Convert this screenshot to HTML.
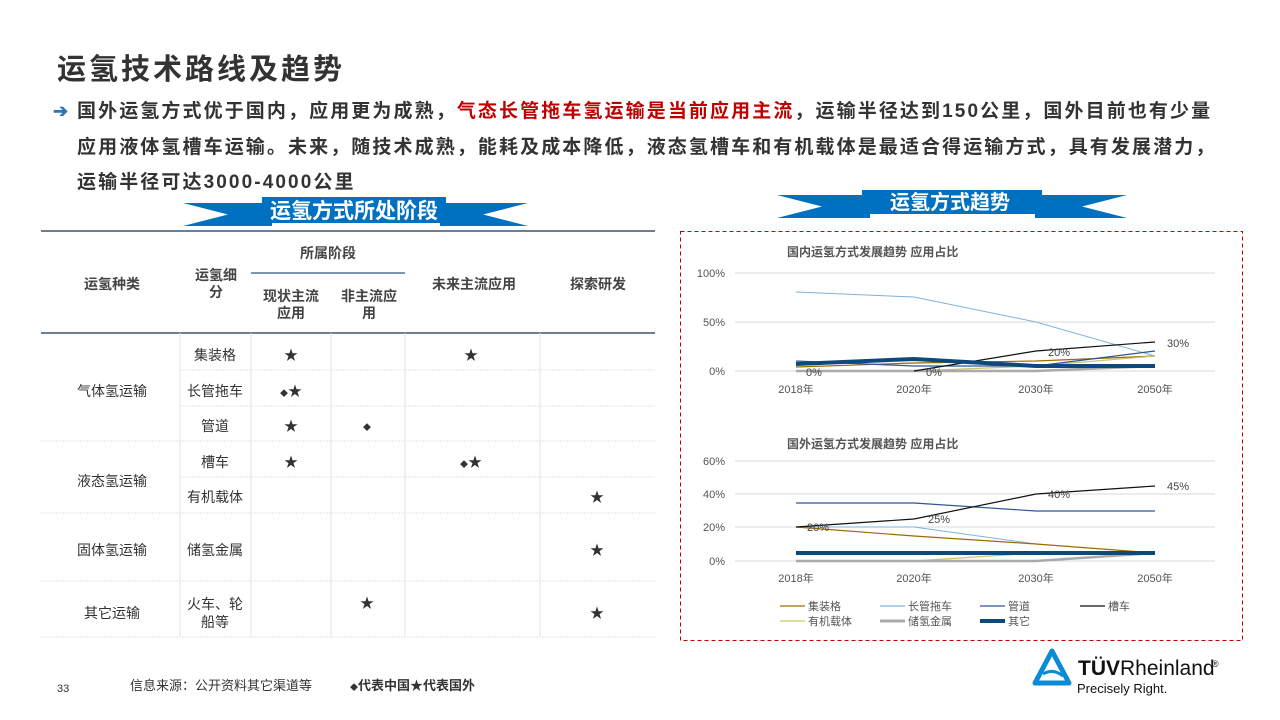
<!DOCTYPE html>
<html><head><meta charset="utf-8"><style>
body{margin:0;background:#fff;}
svg{display:block;font-family:"Liberation Sans","Noto Sans CJK SC",sans-serif;}
</style></head><body>
<svg width="1280" height="720" viewBox="0 0 1280 720" xmlns="http://www.w3.org/2000/svg">
<text x="57" y="79" font-size="29" font-weight="bold" fill="#333" letter-spacing="3">运氢技术路线及趋势</text>
<text x="53" y="117" font-size="18" fill="#2e75b6" font-weight="bold">➔</text>
<g font-size="19" font-weight="bold" fill="#333" letter-spacing="2.1">
<text x="77" y="117">国外运氢方式优于国内，应用更为成熟，<tspan fill="#c00000">气态长管拖车氢运输是当前应用主流</tspan>，运输半径达到150公里，国外目前也有少量</text>
<text x="77" y="153">应用液体氢槽车运输。未来，随技术成熟，能耗及成本降低，液态氢槽车和有机载体是最适合得运输方式，具有发展潜力，</text>
<text x="77" y="188">运输半径可达3000-4000公里</text>
</g>
<polygon points="183,203 272,203 272,226 183,226 228,214.5" fill="#0070c0"/>
<polygon points="528,203 440,203 440,226 528,226 483,214.5" fill="#0070c0"/>
<rect x="262" y="197" width="184" height="26" fill="#0070c0"/>
<text x="354" y="218" font-size="21" font-weight="bold" fill="#fff" text-anchor="middle">运氢方式所处阶段</text>
<polygon points="777,195 870,195 870,218 777,218 822,206.5" fill="#0070c0"/>
<polygon points="1127,195 1035,195 1035,218 1127,218 1082,206.5" fill="#0070c0"/>
<rect x="862" y="190" width="180" height="24" fill="#0070c0"/>
<text x="950" y="209" font-size="20" font-weight="bold" fill="#fff" text-anchor="middle">运氢方式趋势</text>
<g stroke="#44546a">
<line x1="41" y1="231" x2="655" y2="231" stroke-width="1.5"/>
<line x1="41" y1="333" x2="655" y2="333" stroke-width="1.5"/>
<line x1="251" y1="273" x2="405" y2="273" stroke="#7f96b2" stroke-width="2"/>
</g>
<g stroke="#e3e3e3" stroke-width="1">
<line x1="180" y1="333" x2="180" y2="637"/>
<line x1="251" y1="333" x2="251" y2="637"/>
<line x1="331" y1="333" x2="331" y2="637"/>
<line x1="405" y1="333" x2="405" y2="637"/>
<line x1="540" y1="333" x2="540" y2="637"/>
<line x1="180" y1="370" x2="655" y2="370" stroke-dasharray="2,1"/>
<line x1="180" y1="406" x2="655" y2="406" stroke-dasharray="2,1"/>
<line x1="41" y1="441" x2="655" y2="441" stroke-dasharray="2,1"/>
<line x1="180" y1="477" x2="655" y2="477" stroke-dasharray="2,1"/>
<line x1="41" y1="513" x2="655" y2="513" stroke-dasharray="2,1"/>
<line x1="41" y1="581" x2="655" y2="581" stroke-dasharray="2,1"/>
<line x1="41" y1="637" x2="655" y2="637" stroke-dasharray="2,1"/>
</g>
<g font-size="14" fill="#333" text-anchor="middle">
<text x="328" y="258" font-weight="bold" fill="#444">所属阶段</text>
<text x="112" y="289" font-weight="bold" fill="#444">运氢种类</text>
<text x="216" y="280" font-weight="bold" fill="#444">运氢细</text>
<text x="216" y="297" font-weight="bold" fill="#444">分</text>
<text x="291" y="301" font-weight="bold" fill="#444">现状主流</text>
<text x="291" y="318" font-weight="bold" fill="#444">应用</text>
<text x="369" y="301" font-weight="bold" fill="#444">非主流应</text>
<text x="369" y="318" font-weight="bold" fill="#444">用</text>
<text x="474" y="289" font-weight="bold" fill="#444">未来主流应用</text>
<text x="598" y="289" font-weight="bold" fill="#444">探索研发</text>
<text x="112" y="396">气体氢运输</text>
<text x="112" y="486">液态氢运输</text>
<text x="112" y="555">固体氢运输</text>
<text x="112" y="618">其它运输</text>
<text x="215" y="360">集装格</text>
<text x="215" y="396">长管拖车</text>
<text x="215" y="431">管道</text>
<text x="215" y="467">槽车</text>
<text x="215" y="502">有机载体</text>
<text x="215" y="555">储氢金属</text>
<text x="215" y="609">火车、轮</text>
<text x="215" y="627">船等</text>
<text x="291" y="360">★</text><text x="471" y="360">★</text>
<text x="291" y="396"><tspan font-size="8">◆</tspan>★</text>
<text x="291" y="431">★</text><text x="367" y="430" font-size="8">◆</text>
<text x="291" y="467">★</text><text x="471" y="467"><tspan font-size="8">◆</tspan>★</text>
<text x="597" y="502">★</text>
<text x="597" y="555">★</text>
<text x="367" y="608">★</text><text x="597" y="618">★</text>
</g>
<text x="57" y="692" font-size="11" fill="#333">33</text>
<text x="130" y="690" font-size="13" fill="#333">信息来源：公开资料其它渠道等</text>
<text x="350" y="690" font-size="13" fill="#333" font-weight="bold"><tspan font-size="8">◆</tspan>代表中国★代表国外</text>
<rect x="680.5" y="231.5" width="562" height="409" fill="none" stroke="#c00000" stroke-dasharray="4,3"/>
<text x="787" y="256" font-size="12" font-weight="bold" fill="#555">国内运氢方式发展趋势  应用占比</text>
<g stroke="#d9d9d9"><line x1="735" y1="273" x2="1215" y2="273"/><line x1="735" y1="322" x2="1215" y2="322"/><line x1="735" y1="371" x2="1215" y2="371"/></g>
<g font-size="11" fill="#555" text-anchor="end"><text x="725" y="277">100%</text><text x="725" y="326">50%</text><text x="725" y="375">0%</text></g>
<g font-size="11" fill="#555" text-anchor="middle"><text x="796" y="393">2018年</text><text x="914" y="393">2020年</text><text x="1036" y="393">2030年</text><text x="1155" y="393">2050年</text></g>
<g fill="none">
<polyline points="796,292 914,297 1036,322 1155,356" stroke="#7fb3dc" stroke-width="1"/>
<polyline points="796,367 914,363 1036,361 1155,356" stroke="#9c6a00" stroke-width="1.2"/>
<polyline points="796,371 914,371 1036,366 1155,356" stroke="#c9c36a" stroke-width="1.2"/>
<polyline points="796,371 914,371 1036,371 1155,366" stroke="#aaa" stroke-width="2.5"/>
<polyline points="796,361 914,366 1036,366 1155,351" stroke="#2f5597" stroke-width="1.2"/>
<polyline points="914,371 1036,351 1155,342" stroke="#111" stroke-width="1.2"/>
<polyline points="796,364 914,359 1036,366 1155,366" stroke="#0b4a7a" stroke-width="4"/>
</g>
<g font-size="11" fill="#444"><text x="806" y="376">0%</text><text x="926" y="376">0%</text><text x="1048" y="356">20%</text><text x="1167" y="347">30%</text></g>
<text x="787" y="448" font-size="12" font-weight="bold" fill="#555">国外运氢方式发展趋势  应用占比</text>
<g stroke="#d9d9d9"><line x1="735" y1="461" x2="1215" y2="461"/><line x1="735" y1="494" x2="1215" y2="494"/><line x1="735" y1="527" x2="1215" y2="527"/><line x1="735" y1="561" x2="1215" y2="561"/></g>
<g font-size="11" fill="#555" text-anchor="end"><text x="725" y="465">60%</text><text x="725" y="498">40%</text><text x="725" y="531">20%</text><text x="725" y="565">0%</text></g>
<g font-size="11" fill="#555" text-anchor="middle"><text x="796" y="582">2018年</text><text x="914" y="582">2020年</text><text x="1036" y="582">2030年</text><text x="1155" y="582">2050年</text></g>
<g fill="none">
<polyline points="796,503 914,503 1036,511 1155,511" stroke="#2f5597" stroke-width="1.2"/>
<polyline points="796,527 914,527 1036,544 1155,553" stroke="#7fb3dc" stroke-width="1"/>
<polyline points="796,527 914,536 1036,544 1155,553" stroke="#9c6a00" stroke-width="1.2"/>
<polyline points="796,561 914,561 1036,553 1155,553" stroke="#c9c36a" stroke-width="1.2"/>
<polyline points="796,561 914,561 1036,561 1155,553" stroke="#aaa" stroke-width="2.5"/>
<polyline points="796,527 914,519 1036,494 1155,486" stroke="#111" stroke-width="1.2"/>
<polyline points="796,553 914,553 1036,553 1155,553" stroke="#0b4a7a" stroke-width="4"/>
</g>
<g font-size="11" fill="#444"><text x="807" y="531">20%</text><text x="928" y="523">25%</text><text x="1048" y="498">40%</text><text x="1167" y="490">45%</text></g>
<g stroke-width="1.2">
<line x1="780" y1="606" x2="805" y2="606" stroke="#9c6a00"/>
<line x1="880" y1="606" x2="905" y2="606" stroke="#7fb3dc"/>
<line x1="980" y1="606" x2="1005" y2="606" stroke="#2f5597"/>
<line x1="1080" y1="606" x2="1105" y2="606" stroke="#111"/>
<line x1="780" y1="621" x2="805" y2="621" stroke="#c9c36a"/>
<line x1="880" y1="621" x2="905" y2="621" stroke="#aaa" stroke-width="3"/>
<line x1="980" y1="621" x2="1005" y2="621" stroke="#0b4a7a" stroke-width="4"/>
</g>
<g font-size="11" fill="#555"><text x="808" y="610">集装格</text><text x="908" y="610">长管拖车</text><text x="1008" y="610">管道</text><text x="1108" y="610">槽车</text><text x="808" y="625">有机载体</text><text x="908" y="625">储氢金属</text><text x="1008" y="625">其它</text></g>
<polygon points="1052,651 1035,683 1069,683" fill="none" stroke="#0a8bd6" stroke-width="5" stroke-linejoin="round"/>
<path d="M1043,674 Q1053,668 1063,676" fill="none" stroke="#0a8bd6" stroke-width="3"/>
<text x="1078" y="675" font-size="21" fill="#111"><tspan font-weight="bold">TÜV</tspan>Rheinland</text>
<text x="1212" y="667" font-size="9" fill="#111">®</text>
<text x="1077" y="693" font-size="13" fill="#111">Precisely Right.</text>
</svg>
</body></html>
